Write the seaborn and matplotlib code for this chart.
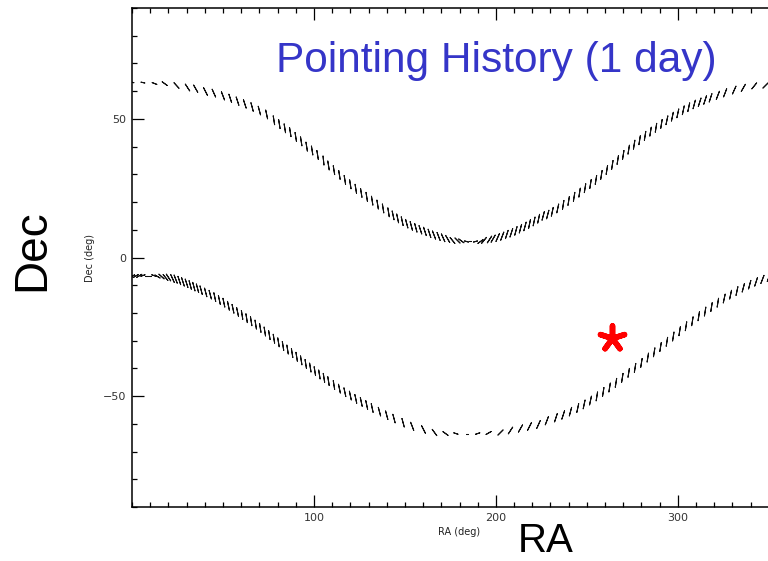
import numpy as np
import pandas as pd
import matplotlib
matplotlib.use('Agg')
import matplotlib.pyplot as plt
from matplotlib.ticker import MultipleLocator
import seaborn as sns

# pointing track (RA, Dec in deg)
upper_ra = [0, 6, 12, 18, 24, 30, 35, 40, 45, 50, 54, 58, 62, 66, 70, 74, 78, 81, 84, 87,
            90, 93, 96, 99, 102, 105, 108, 111, 114, 117, 120, 123, 126, 129, 132, 135, 138, 141,
            143.5, 146, 148.5, 151, 153.5, 156, 158.5, 161, 163.5, 166, 168.5, 171, 173.5, 176,
            178.5, 181, 183.5, 186, 188.5, 191, 193.5, 196, 198.5, 201, 203.5, 206, 208.5, 211,
            213.5, 216, 218.5, 221, 223.5, 226, 228.5, 231, 234, 237, 240, 243, 246, 249, 252,
            255, 258, 261, 264, 267, 270, 273, 276, 279, 282, 285, 288, 291, 294, 297, 300, 303,
            306, 309, 312, 315, 318, 322, 326, 331, 336, 342, 348]
upper_dec = [63.2, 63.1, 63.0, 62.7, 62.3, 61.6, 60.9, 60.1, 59.3, 58.3, 57.4, 56.4, 55.4, 54.3,
             53.0, 51.6, 49.5, 48.1, 46.6, 45.2, 43.5, 41.9, 40.0, 38.6, 37.0, 35.0, 33.2, 31.5,
             29.8, 28.0, 26.4, 24.8, 23.3, 21.9, 20.5, 19.1, 17.7, 16.3, 15.2, 14.1, 13.1, 12.2,
             11.4, 10.7, 10.0, 9.4, 8.7, 8.1, 7.6, 7.1, 6.7, 6.4, 6.2, 6.0, 5.9, 5.9, 5.9, 6.0,
             6.2, 6.5, 6.8, 7.2, 7.7, 8.3, 8.9, 9.6, 10.4, 11.2, 12.1, 13.0, 14.0, 15.0, 15.5,
             16.5, 17.7, 19.0, 20.4, 21.9, 23.4, 25.0, 26.5, 28.0, 29.8, 31.6, 33.4, 35.2, 37.0,
             38.9, 40.7, 42.3, 43.9, 45.4, 46.8, 48.2, 49.5, 50.8, 52.0, 53.1, 54.2, 55.2, 56.0,
             56.8, 57.6, 58.5, 59.4, 60.4, 61.2, 61.9, 62.4]

lower_ra = [0, 2, 4, 6, 8, 10, 12, 14, 16, 18, 20, 22, 24, 26, 28, 30, 32, 34, 36, 38, 40.5, 43,
            45.5, 48, 50.5, 53, 55.5, 58, 60.5, 63, 65.5, 68, 70.5, 73, 75.5, 78, 80.5, 83, 85.5,
            88, 90.5, 93, 95.5, 98, 100.5, 103, 105.5, 108, 111, 114, 117, 120, 123, 126, 129,
            132, 136, 140, 144, 149, 154, 160, 166, 172, 178, 184, 190, 196, 202, 208, 213, 218,
            223, 228, 233, 237, 241, 245, 248.5, 252, 255.5, 259, 262.5, 266, 269.5, 273, 276.5,
            280, 283.5, 287, 290.5, 294, 297.5, 301, 304.5, 308, 311.5, 315, 318.5, 322, 325.5,
            329, 332.5, 336, 339.5, 343, 346.5, 350]
lower_dec = [-6.8, -6.7, -6.6, -6.5, -6.5, -6.5, -6.5, -6.6, -6.7, -6.9, -7.1, -7.4, -7.8, -8.3,
             -8.8, -9.3, -9.9, -10.5, -11.1, -11.8, -12.6, -13.4, -14.3, -15.3, -16.3, -17.4,
             -18.5, -19.6, -20.7, -21.9, -23.0, -24.2, -25.4, -26.7, -28.0, -29.3, -30.6, -31.9,
             -33.2, -34.5, -35.8, -37.1, -38.4, -39.7, -41.0, -42.2, -43.4, -44.6, -46.0, -47.3,
             -48.6, -49.8, -51.0, -52.1, -53.2, -54.3, -55.6, -56.9, -58.1, -59.6, -60.9, -62.0,
             -62.8, -63.3, -63.5, -63.6, -63.5, -63.3, -62.9, -62.3, -61.6, -60.8, -59.9, -58.9,
             -57.8, -56.8, -55.6, -54.3, -53.0, -51.6, -50.1, -48.5, -46.9, -45.2, -43.4, -41.6,
             -39.8, -38.0, -36.1, -34.2, -32.3, -30.4, -28.5, -26.6, -24.8, -23.0, -21.2, -19.5,
             -17.9, -16.3, -14.8, -13.4, -12.1, -10.9, -9.8, -8.8, -7.9, -7.2]

# the red source marker
source_ra = [263.7]
source_dec = [-29.2]

x_ticks = [100, 200, 300]
y_ticks = [-50, 0, 50]

sns.set_style('ticks')
plt.rcParams['font.family'] = ['Liberation Sans', 'DejaVu Sans']
plt.rcParams['text.color'] = 'black'

fig = plt.figure(figsize=(7.68, 5.61), dpi=100)
# axes run to RA 360, past the right edge of the picture
ax = fig.add_axes([132 / 768, 54 / 561, 655 / 768, 499 / 561])

px_ra = 655 / 360
px_dec = 499 / 180


def draw_track(ra, dec):
    df = pd.DataFrame({'ra': ra, 'dec': dec})
    slope = np.gradient(df['dec'].values, df['ra'].values) * px_dec / px_ra
    theta = np.degrees(np.arctan(8 * slope))
    df['rot'] = np.round((theta - 90) / 3) * 3
    df['s'] = ((2.5 + 6.5 * np.abs(np.sin(np.radians(theta)))) * 0.72) ** 2
    for rot, grp in df.groupby('rot'):
        sns.scatterplot(data=grp, x='ra', y='dec', marker=(2, 2, rot), s=grp['s'].values,
                        color='#111111', linewidth=0.75, ax=ax, legend=False)


draw_track(upper_ra, upper_dec)
draw_track(lower_ra, lower_dec)

sns.scatterplot(x=source_ra, y=source_dec, marker=(5, 2, 0), s=330, color='red',
                linewidth=4, ax=ax, legend=False)

ax.set_xlim(0, 360)
ax.set_ylim(-90, 90)
ax.set_xticks(x_ticks)
ax.set_yticks(y_ticks)
ax.set_yticklabels(['\u221250', '0', '50'])
ax.xaxis.set_minor_locator(MultipleLocator(10))
ax.yaxis.set_minor_locator(MultipleLocator(10))
ax.tick_params(which='both', direction='in', top=True, right=True, width=0.9, color='black')
ax.tick_params(which='major', length=8.5, labelsize=8, labelcolor='#333333', pad=4)
ax.tick_params(which='minor', length=3.5)
for lab in ax.get_xticklabels() + ax.get_yticklabels():
    lab.set_family('DejaVu Sans')
for sp in ax.spines.values():
    sp.set_linewidth(1.1)
    sp.set_color('black')

ax.set_xlabel('RA (deg)', fontsize=7, family='DejaVu Sans', labelpad=3, color='#222222')
ax.set_ylabel('Dec (deg)', fontsize=7, family='DejaVu Sans', labelpad=6, color='#222222')

fig.text(496 / 768, (561 - 72) / 561, 'Pointing History (1 day)', color='#3535C8',
         fontsize=30.5, ha='center', va='baseline')
fig.text(32 / 768, (561 - 250) / 561, 'Dec', fontsize=33, rotation=90, ha='center',
         va='center', color='black')
fig.text(546 / 768, 1 / 561, 'RA', fontsize=29, ha='center', va='bottom', color='black')

fig.savefig('out.png', dpi=100)
